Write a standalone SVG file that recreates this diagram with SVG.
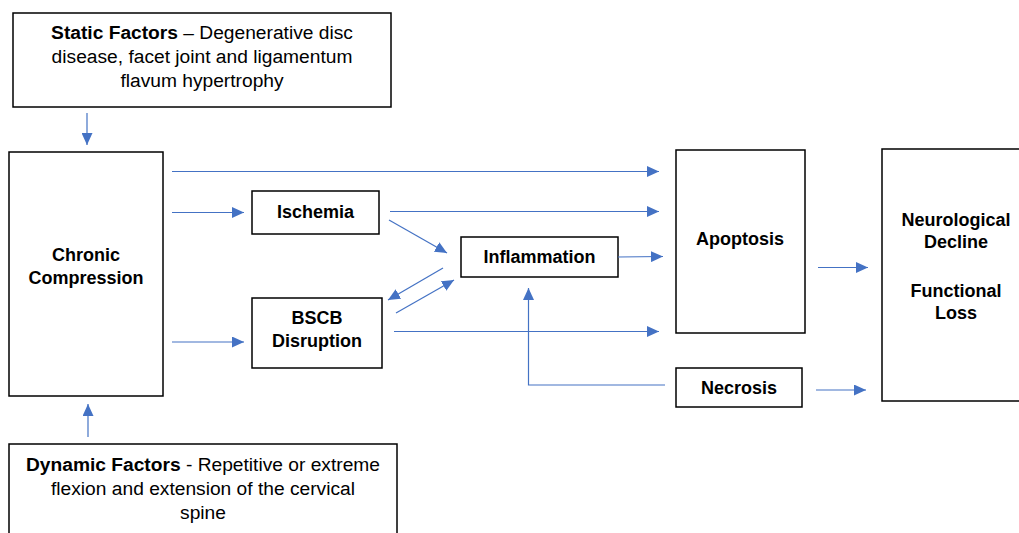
<svg xmlns="http://www.w3.org/2000/svg" width="1019" height="533" viewBox="0 0 1019 533">
<style>
.box{fill:#fff;stroke:#000;stroke-width:1.5}
text{font-family:"Liberation Sans",Arial,sans-serif;font-size:18px;fill:#000;text-anchor:middle}
.f{font-size:19.2px}
.b{font-weight:bold}
.c{fill:none;stroke:#4472C4;stroke-width:1.2}
</style>
<defs>
<marker id="ah" markerUnits="userSpaceOnUse" markerWidth="12" markerHeight="11" refX="12" refY="5.5" orient="auto">
<path d="M0,0 L12,5.5 L0,11 z" fill="#4472C4"/>
</marker>
</defs>
<g id="static">
<rect class="box" x="13" y="13" width="378" height="94"/>
<text class="f" x="202" y="39"><tspan class="b">Static Factors</tspan> – Degenerative disc</text>
<text class="f" x="202" y="63">disease, facet joint and ligamentum</text>
<text class="f" x="202" y="87">flavum hypertrophy</text>
</g>
<g id="chronic">
<rect class="box" x="9" y="152" width="154" height="244"/>
<text class="b" x="86" y="261">Chronic</text>
<text class="b" x="86" y="284">Compression</text>
</g>
<g id="dynamic">
<rect class="box" x="9" y="444" width="388" height="100"/>
<text class="f" x="203" y="471"><tspan class="b">Dynamic Factors</tspan> - Repetitive or extreme</text>
<text class="f" x="203" y="495">flexion and extension of the cervical</text>
<text class="f" x="203" y="519">spine</text>
</g>
<g id="ischemia">
<rect class="box" x="252" y="191" width="127" height="43"/>
<text class="b" x="315.5" y="218">Ischemia</text>
</g>
<g id="bscb">
<rect class="box" x="252" y="298" width="130" height="70"/>
<text class="b" x="317" y="324">BSCB</text>
<text class="b" x="317" y="347">Disruption</text>
</g>
<g id="inflammation">
<rect class="box" x="461" y="237" width="157" height="40"/>
<text class="b" x="539.5" y="263">Inflammation</text>
</g>
<g id="apoptosis">
<rect class="box" x="676" y="150" width="129" height="183"/>
<text class="b" x="740" y="245">Apoptosis</text>
</g>
<g id="necrosis">
<rect class="box" x="676" y="368" width="126" height="39"/>
<text class="b" x="739" y="394">Necrosis</text>
</g>
<g id="outcome">
<rect class="box" x="882" y="149" width="140" height="252"/>
<text class="b" x="956" y="226">Neurological</text>
<text class="b" x="956" y="248">Decline</text>
<text class="b" x="956" y="297">Functional</text>
<text class="b" x="956" y="319">Loss</text>
</g>
<g id="connectors">
<line class="c" x1="87" y1="113" x2="87" y2="145" marker-end="url(#ah)"/>
<line class="c" x1="88" y1="437" x2="88" y2="404" marker-end="url(#ah)"/>
<line class="c" x1="172" y1="171.5" x2="659" y2="171.5" marker-end="url(#ah)"/>
<line class="c" x1="172" y1="212.5" x2="244" y2="212.5" marker-end="url(#ah)"/>
<line class="c" x1="172" y1="342" x2="244" y2="342" marker-end="url(#ah)"/>
<line class="c" x1="390" y1="211.5" x2="659" y2="211.5" marker-end="url(#ah)"/>
<line class="c" x1="389" y1="220" x2="447" y2="253" marker-end="url(#ah)"/>
<line class="c" x1="618" y1="257" x2="663" y2="256.5" marker-end="url(#ah)"/>
<line class="c" x1="443" y1="268" x2="388" y2="300" marker-end="url(#ah)"/>
<line class="c" x1="396" y1="313" x2="454" y2="280" marker-end="url(#ah)"/>
<line class="c" x1="394" y1="331.5" x2="659" y2="331.5" marker-end="url(#ah)"/>
<polyline class="c" points="665,385 528.5,385 528.5,288" marker-end="url(#ah)"/>
<line class="c" x1="818" y1="267.5" x2="868" y2="267.5" marker-end="url(#ah)"/>
<line class="c" x1="816" y1="390" x2="866" y2="390" marker-end="url(#ah)"/>
</g>
</svg>
